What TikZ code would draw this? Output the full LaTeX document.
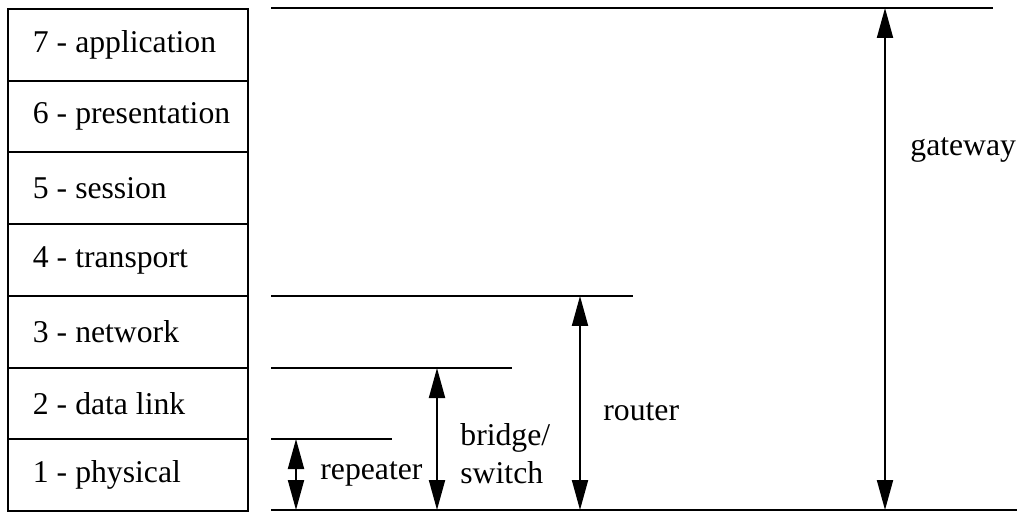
\documentclass[tikz,border=0pt]{standalone}
\usepackage{fontspec}
\setmainfont{Liberation Serif}
\usetikzlibrary{arrows.meta}
\begin{document}
\begin{tikzpicture}[x=0.5pt,y=-0.5pt,
  layer/.style={draw,line width=1pt,minimum width=120pt,minimum height=35.85pt,
    text width=110pt,align=flush left,inner sep=0pt,anchor=north west,
    font=\fontsize{15.85}{19}\selectfont},
  lbl/.style={font=\fontsize{15.85}{19}\selectfont,align=left,inner sep=0pt},
  hline/.style={line width=1pt},
  span/.style={line width=1pt,{Triangle[width=8pt,length=15pt]}-{Triangle[width=8pt,length=15pt]}}]
\useasboundingbox (0,0) rectangle (1020,512);
\foreach \n/\t [count=\i from 0] in {7/application,6/presentation,5/session,4/transport,3/network,2/data link,1/physical}{
  \node[layer] (L\n) at (7,{8+71.7*\i}) {\hspace*{7.5pt}\n\ - \t};
}
% horizontal lines
\coordinate (gT1) at (271,8);   \coordinate (gT2) at (993,8);
\coordinate (B1) at (271,510);  \coordinate (B2) at (1017,510);
\coordinate (rT1) at (271,296); \coordinate (rT2) at (633,296);
\coordinate (bT1) at (271,368); \coordinate (bT2) at (512,368);
\coordinate (pT1) at (271,439); \coordinate (pT2) at (392,439);
\draw[hline] (gT1) -- (gT2);
\draw[hline] (B1) -- (B2);
\draw[hline] (rT1) -- (rT2);
\draw[hline] (bT1) -- (bT2);
\draw[hline] (pT1) -- (pT2);
% arrows
\coordinate (pa) at (296,439); \coordinate (pb) at (296,510);
\coordinate (ba) at (437,368); \coordinate (bb) at (437,510);
\coordinate (ra) at (580,296); \coordinate (rb) at (580,510);
\coordinate (ga) at (885,8);   \coordinate (gb) at (885,510);
\draw[span] (pa) -- (pb);
\draw[span] (ba) -- (bb);
\draw[span] (ra) -- (rb);
\draw[span] (ga) -- (gb);
% labels
\node[lbl,anchor=west] (lrep) at (320,474) {repeater};
\node[lbl,anchor=west] (lbr) at (460,454) {bridge/\\switch};
\node[lbl,anchor=west] (lro) at (603,412) {router};
\node[lbl,anchor=west] (lga) at (910,150) {gateway};
\end{tikzpicture}
\end{document}
